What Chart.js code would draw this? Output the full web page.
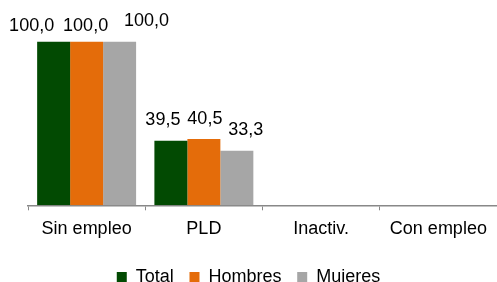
<!DOCTYPE html>
<html>
<head>
<meta charset="utf-8">
<script src="https://cdn.jsdelivr.net/npm/chart.js@4.4.0/dist/chart.umd.min.js"></script>
<style>
    html, body { margin: 0; padding: 0; background: #fff; overflow: hidden; }
    .chart-wrap { position: relative; width: 497px; height: 296px; }
</style>
</head>
<body>
<div class="chart-wrap">
    <canvas id="statusChart"></canvas>
</div>
<script>
// Chart data
const categories = ['Sin empleo', 'PLD', 'Inactiv.', 'Con empleo'];
const seriesNames = ['Total', 'Hombres', 'Mujeres'];
const totalValues = [100.0, 39.5, null, null];
const menValues = [100.0, 40.5, null, null];
const womenValues = [100.0, 33.3, null, null];

const colors = ['#024A02', '#E46C0A', '#A6A6A6'];
const fontFamily = '"Liberation Sans", Arial, sans-serif';

// Label nudges (Excel moves overlapping labels around) - [dx, dy] per dataset / category
const labelShift = [
    [[-22, 5], [-8, 0]],
    [[-1, 5], [1, 0]],
    [[27, 0], [9, 0]]
];

const valueLabels = {
    id: 'valueLabels',
    afterDatasetsDraw(chart) {
        const ctx = chart.ctx;
        ctx.save();
        ctx.font = '18px ' + fontFamily;
        ctx.fillStyle = '#000';
        ctx.textAlign = 'center';
        ctx.textBaseline = 'alphabetic';
        chart.data.datasets.forEach((ds, i) => {
            const meta = chart.getDatasetMeta(i);
            meta.data.forEach((bar, j) => {
                const v = ds.data[j];
                if (v === null || v === undefined) return;
                const shift = (labelShift[i] && labelShift[i][j]) || [0, 0];
                const text = v.toFixed(1).replace('.', ',');
                ctx.fillText(text, bar.x + shift[0], bar.y - 15.5 + shift[1]);
            });
        });
        ctx.restore();
    }
};

const statusCtx = document.getElementById('statusChart');
new Chart(statusCtx, {
    type: 'bar',
    data: {
        labels: categories,
        datasets: [
            { label: seriesNames[0], data: totalValues, backgroundColor: colors[0] },
            { label: seriesNames[1], data: menValues, backgroundColor: colors[1] },
            { label: seriesNames[2], data: womenValues, backgroundColor: colors[2] }
        ]
    },
    options: {
        responsive: true,
        maintainAspectRatio: false,
        animation: false,
        datasets: {
            bar: {
                barPercentage: 1,
                categoryPercentage: 0.844,
                borderWidth: 0
            }
        },
        layout: {
            padding: { top: 9, right: 0, bottom: 0, left: 0 }
        },
        plugins: {
            legend: {
                position: 'bottom',
                labels: {
                    boxWidth: 10,
                    boxHeight: 10,
                    padding: 15.7,
                    color: '#000',
                    font: { family: fontFamily, size: 18 }
                }
            },
            tooltip: { enabled: false }
        },
        scales: {
            x: {
                grid: {
                    display: true,
                    drawOnChartArea: false,
                    offset: true,
                    tickLength: 5,
                    color: '#888888'
                },
                border: { color: '#888888', width: 1.5 },
                ticks: {
                    padding: 8,
                    color: '#000',
                    font: { family: fontFamily, size: 18 }
                },
                afterFit: function(scale) {
                    scale.height = 47;
                }
            },
            y: {
                min: 0,
                max: 120,
                grid: { display: false },
                border: { display: false },
                ticks: { display: false },
                afterFit: function(scale) {
                    scale.width = 28;
                }
            }
        }
    },
    plugins: [valueLabels]
});
</script>
</body>
</html>
